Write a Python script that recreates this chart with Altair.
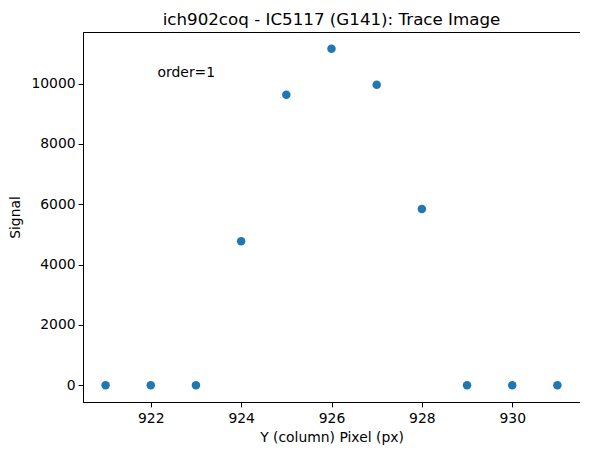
import altair as alt
import pandas as pd

pixels = [921, 922, 923, 924, 925, 926, 927, 928, 929, 930, 931]
signal = [0, 0, 0, 4775, 9630, 11155, 9960, 5840, 0, 0, 0]
x_ticks = [922, 924, 926, 928, 930]
y_ticks = [0, 2000, 4000, 6000, 8000, 10000]
note_x = [922.15]
note_y = [10230]
note_text = ["order=1"]

df = pd.DataFrame({"px": pixels, "sig": signal})
notes = pd.DataFrame({"x": note_x, "y": note_y, "t": note_text})

FONT = "DejaVu Sans"
xscale = alt.Scale(domain=[920.5, 931.5], nice=False, zero=False)
yscale = alt.Scale(domain=[-558, 11711], nice=False, zero=False)

points = alt.Chart(df).mark_circle(size=72, color="#1f77b4", opacity=1).encode(
    x=alt.X("px:Q", scale=xscale, title="Y (column) Pixel (px)",
            axis=alt.Axis(values=x_ticks, format="d")),
    y=alt.Y("sig:Q", scale=yscale, title="Signal",
            axis=alt.Axis(values=y_ticks, format="d")),
)

text = alt.Chart(notes).mark_text(align="left", baseline="alphabetic",
                                   font=FONT, fontSize=13.9, color="black").encode(
    x=alt.X("x:Q", scale=xscale),
    y=alt.Y("y:Q", scale=yscale),
    text="t:N",
)

chart = (points + text).properties(
    width=497, height=370,
    title=alt.TitleParams("ich902coq - IC5117 (G141): Trace Image", font=FONT,
                          fontSize=16.7, fontWeight="normal", color="black",
                          anchor="middle", baseline="bottom", offset=4, dy=18),
    autosize=alt.AutoSizeParams(type="none"),
    padding={"left": 75, "top": 24, "right": 0, "bottom": 44},
).configure_view(stroke="black", strokeWidth=1).configure_axis(
    grid=False, domainColor="black", tickColor="black", tickSize=4.9,
    labelFont=FONT, labelFontSize=13.9, labelColor="black", labelPadding=3,
    titleFont=FONT, titleFontSize=13.9, titleFontWeight="normal", titleColor="black",
    domainWidth=1, tickWidth=1,
).configure_axisX(titlePadding=5, labelPadding=5).configure_axisY(titlePadding=8)

chart.save("out.html", embed_options={"renderer": "svg", "actions": False})
